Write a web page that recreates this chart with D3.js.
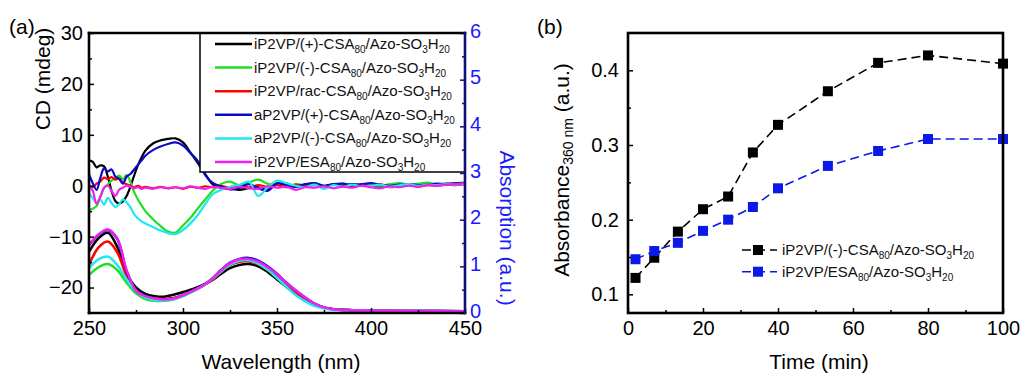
<!DOCTYPE html>
<html>
<head>
<meta charset="utf-8">
<script src="https://cdn.jsdelivr.net/npm/d3@7/dist/d3.min.js"></script>
<style>
  body { margin: 0; background: #fff; }
  svg { display: block; font-family: "Liberation Sans", Arial, sans-serif; }
</style>
</head>
<body>
<svg id="chart" width="1023" height="373"></svg>
<script>
// ---- panel (a): CD spectra (left axis) ----
const cdWl = [250,252,254,256,258,260,262,264,266,268,270,272,274,276,278,280,284,288,292,296,300,304,308,312,316,320,
  325,330,335,340,345,350,355,360,365,370,375,380,385,390,395,400,405,410,415,420,425,430,435,440,445,450];
const cdBlack = [5.0,4.7,3.6,4.0,3.8,1.8,-1.0,-3.0,-3.5,-3.1,-2.0,-0.2,2.0,4.0,5.6,6.9,8.3,8.9,9.2,9.3,8.5,6.5,4.4,2.2,0.2,-0.4,
  -0.6,-0.8,-0.5,-0.3,-0.8,0.3,0.1,-0.2,0.2,0.4,-0.1,0.2,0.0,0.3,0.1,0.2,-0.2,0.1,0.3,0.1,0.0,0.3,0.2,0.4,0.3,0.6];
const cdGreen = [-4.8,-4.5,-4.0,-2.2,-0.5,0.3,1.0,1.5,2.0,1.3,2.1,0.8,-1.2,-2.7,-3.9,-5.0,-6.6,-7.9,-9.0,-9.2,-7.8,-6.3,-4.4,-2.6,-0.9,0.3,
  0.8,0.1,0.6,1.2,0.4,0.2,-0.3,0.3,0.1,0.5,0.0,0.2,0.4,0.0,0.3,0.2,0.0,0.3,0.5,0.2,0.4,0.6,0.3,0.2,0.5,0.6];
const cdRed = [0.0,-0.3,0.4,0.8,1.6,1.3,1.7,1.2,1.4,0.6,0.3,0.0,-0.3,0.0,-0.4,-0.2,-0.5,-0.2,-0.5,-0.3,-0.6,-0.2,-0.4,-0.1,-0.3,0.0,
  -0.4,-0.1,-0.3,0.1,-0.2,0.1,-0.3,0.2,-0.1,0.1,-0.2,0.3,0.0,-0.1,0.2,0.0,0.3,-0.3,0.0,0.2,-0.2,0.1,0.0,0.2,0.1,0.3];
const cdBlue = [2.2,0.5,-0.8,1.5,3.4,2.8,3.2,1.8,1.4,0.4,1.8,2.3,3.2,4.1,5.0,5.9,7.0,7.7,8.2,8.5,7.9,6.4,4.8,2.0,0.5,-0.1,
  -0.7,-0.4,0.3,-0.5,-1.0,0.5,0.2,-0.2,0.3,0.5,0.0,0.3,0.4,0.1,0.3,0.5,0.2,0.0,0.2,0.3,0.1,0.2,0.4,0.3,0.5,0.5];
const cdCyan = [-1.5,-2.4,-3.4,-2.7,-3.7,-2.4,-3.4,-4.2,-3.6,-2.7,-3.3,-4.2,-5.6,-6.4,-7.0,-7.4,-8.1,-8.8,-9.3,-9.5,-8.7,-7.4,-5.7,-3.5,-1.6,-0.9,
  -0.2,0.2,0.8,-2.0,-0.3,1.0,0.5,0.0,-0.3,0.2,-0.6,0.1,-0.2,0.2,-0.1,0.0,0.2,-0.2,0.1,0.3,0.0,0.2,0.1,0.3,0.2,0.4];
const cdMagenta = [0.0,-1.0,-3.5,-2.2,-0.4,0.0,-1.0,-2.0,-0.8,-0.4,0.0,-0.2,-0.5,-0.3,-0.6,-0.4,-0.6,-0.3,-0.5,-0.3,-0.5,-0.1,-0.4,-0.6,-0.2,-0.4,
  -0.6,-0.2,-0.5,-0.6,-0.1,-0.4,-0.2,-0.8,-0.3,-0.4,-0.1,-0.5,-0.2,-0.4,0.0,-0.3,-0.5,-0.1,-0.3,0.0,-0.2,0.1,0.0,0.2,0.3,0.5];

// ---- panel (a): absorption spectra (right axis) ----
const absWl = [250,255,260,265,270,275,280,285,290,295,300,305,310,315,320,325,330,335,340,345,350,355,360,365,370,375,380,390,400,420,450];
const absBlack = [1.31,1.60,1.72,1.42,0.85,0.55,0.41,0.36,0.35,0.39,0.45,0.51,0.59,0.69,0.83,0.96,1.03,1.05,1.00,0.88,0.72,0.56,0.40,0.28,0.18,0.11,0.08,0.06,0.05,0.045,0.04];
const absGreen = [0.81,0.98,1.05,0.92,0.65,0.42,0.30,0.26,0.26,0.29,0.36,0.46,0.57,0.70,0.88,1.03,1.10,1.11,1.05,0.93,0.77,0.59,0.42,0.28,0.17,0.11,0.08,0.06,0.05,0.045,0.04];
const absRed = [1.03,1.40,1.53,1.30,0.80,0.47,0.35,0.31,0.30,0.32,0.38,0.47,0.57,0.70,0.88,1.03,1.10,1.11,1.05,0.94,0.78,0.60,0.44,0.30,0.19,0.12,0.08,0.06,0.05,0.045,0.04];
const absBlue = [1.45,1.67,1.78,1.59,0.90,0.48,0.36,0.30,0.29,0.31,0.38,0.47,0.58,0.72,0.91,1.08,1.16,1.18,1.12,1.00,0.84,0.65,0.48,0.33,0.20,0.12,0.08,0.06,0.05,0.045,0.04];
const absCyan = [0.96,1.15,1.21,1.03,0.72,0.47,0.33,0.28,0.27,0.30,0.37,0.46,0.57,0.71,0.88,1.04,1.12,1.13,1.06,0.93,0.75,0.56,0.38,0.25,0.15,0.10,0.07,0.06,0.05,0.045,0.04];
const absMagenta = [1.46,1.68,1.79,1.60,0.92,0.48,0.36,0.31,0.29,0.31,0.38,0.47,0.57,0.71,0.90,1.07,1.15,1.16,1.10,0.98,0.83,0.64,0.48,0.33,0.20,0.12,0.08,0.06,0.05,0.045,0.04];

const legendA = [
  "iP2VP/(+)-CSA_{80}/Azo-SO_{3}H_{20}",
  "iP2VP/(-)-CSA_{80}/Azo-SO_{3}H_{20}",
  "iP2VP/rac-CSA_{80}/Azo-SO_{3}H_{20}",
  "aP2VP/(+)-CSA_{80}/Azo-SO_{3}H_{20}",
  "aP2VP/(-)-CSA_{80}/Azo-SO_{3}H_{20}",
  "iP2VP/ESA_{80}/Azo-SO_{3}H_{20}"
];
const colorsA = ["#000000", "#1ee01e", "#ff0000", "#0a0ac8", "#20e8f0", "#f020f0"];

// ---- panel (b): absorbance at 360 nm vs time ----
const timeMin = [2, 7, 13.3, 20, 26.7, 33.3, 40, 53.3, 66.7, 80, 100];
const absCSA = [0.122, 0.149, 0.184, 0.214, 0.231, 0.290, 0.327, 0.372, 0.410, 0.420, 0.409];
const absESA = [0.147, 0.158, 0.169, 0.185, 0.200, 0.217, 0.242, 0.272, 0.292, 0.308, 0.308];
const legendB = ["iP2VP/(-)-CSA_{80}/Azo-SO_{3}H_{20}", "iP2VP/ESA_{80}/Azo-SO_{3}H_{20}"];
const colorsB = ["#000000", "#0a18e8"];

const svg = d3.select("#chart");

// text with _{sub} markup
function richText(sel, str, subSize) {
  const parts = str.split(/_\{([^}]*)\}/);
  let shifted = false;
  parts.forEach((p, i) => {
    if (p === "") return;
    const t = sel.append("tspan").text(p);
    if (i % 2 === 1) {
      t.attr("font-size", subSize).attr("dy", shifted ? 0 : 4);
      shifted = true;
    } else if (shifted) {
      t.attr("dy", -4);
      shifted = false;
    }
  });
}

function styleAxis(g, color) {
  g.select(".domain").remove();
  g.selectAll("line").attr("stroke", color).attr("stroke-width", 1.5);
  g.selectAll("text").attr("fill", color).attr("font-size", 20)
    .attr("font-family", "Liberation Sans, Arial, sans-serif");
}

// ================= panel (a) =================
const a = { left: 89, right: 465, top: 33, bottom: 313 };
const xA = d3.scaleLinear().domain([250, 450]).range([a.left, a.right]);
const yCD = d3.scaleLinear().domain([-25, 30]).range([a.bottom, a.top]);
const yAbs = d3.scaleLinear().domain([0, 6]).range([a.bottom, a.top]);

svg.append("clipPath").attr("id", "clipA").append("rect")
  .attr("x", a.left).attr("y", a.top).attr("width", a.right - a.left).attr("height", a.bottom - a.top);

const cdSeries = [cdBlack, cdGreen, cdRed, cdBlue, cdCyan, cdMagenta];
const absSeries = [absBlack, absGreen, absRed, absBlue, absCyan, absMagenta];

const lineCD = d3.line().x((d, i) => xA(cdWl[i])).y(d => yCD(d)).curve(d3.curveCatmullRom.alpha(0.5));
const lineAbs = d3.line().x((d, i) => xA(absWl[i])).y(d => yAbs(d)).curve(d3.curveCatmullRom.alpha(0.5));

const gA = svg.append("g").attr("clip-path", "url(#clipA)");
cdSeries.forEach((s, k) => {
  gA.append("path").datum(s).attr("fill", "none").attr("stroke", colorsA[k])
    .attr("stroke-width", 2.2).attr("stroke-linejoin", "round").attr("d", lineCD);
});
absSeries.forEach((s, k) => {
  gA.append("path").datum(s).attr("fill", "none").attr("stroke", colorsA[k])
    .attr("stroke-width", 2.5).attr("stroke-linejoin", "round").attr("d", lineAbs);
});

// legend (a)
const legA = svg.append("g");
legA.append("rect").attr("x", 200).attr("y", a.top).attr("width", a.right - 200).attr("height", 139)
  .attr("fill", "#fff").attr("stroke", "#000").attr("stroke-width", 1.5);
legendA.forEach((lbl, k) => {
  const y = 44 + k * 23.6;
  legA.append("line").attr("x1", 215).attr("x2", 252).attr("y1", y).attr("y2", y)
    .attr("stroke", colorsA[k]).attr("stroke-width", 2.5);
  const t = legA.append("text").attr("x", 254).attr("y", y + 5).attr("font-size", 15).attr("fill", "#111");
  richText(t, lbl, 10);
});

// axes (a)
svg.append("g").attr("transform", `translate(${a.left},0)`)
  .call(d3.axisLeft(yCD).tickValues([-20, -10, 0, 10, 20, 30]).tickSize(-5).tickPadding(6))
  .call(g => styleAxis(g, "#000"));
svg.append("g").attr("transform", `translate(${a.left},0)`)
  .call(d3.axisLeft(yCD).tickValues([-15, -5, 5, 15, 25]).tickSize(-3).tickFormat(""))
  .call(g => styleAxis(g, "#000"));
svg.append("g").attr("transform", `translate(0,${a.bottom})`)
  .call(d3.axisBottom(xA).tickValues([250, 300, 350, 400, 450]).tickSize(-5).tickPadding(8))
  .call(g => styleAxis(g, "#000"));
svg.append("g").attr("transform", `translate(0,${a.bottom})`)
  .call(d3.axisBottom(xA).tickValues([275, 325, 375, 425]).tickSize(-3).tickFormat(""))
  .call(g => styleAxis(g, "#000"));
svg.append("g").attr("transform", `translate(${a.right},0)`)
  .call(d3.axisRight(yAbs).tickValues([0, 1, 2, 3, 4, 5, 6]).tickSize(-5).tickPadding(5).tickFormat(d3.format("d")))
  .call(g => styleAxis(g, "#1a1aff"))
  .call(g => g.selectAll("line").attr("stroke", "#10107a"))
  .call(g => g.selectAll("text").attr("dy", "0.2em"));
svg.append("g").attr("transform", `translate(${a.right},0)`)
  .call(d3.axisRight(yAbs).tickValues([0.5, 1.5, 2.5, 3.5, 4.5, 5.5]).tickSize(-3).tickFormat(""))
  .call(g => styleAxis(g, "#10107a"));

// frame (a)
const frameA = svg.append("g").attr("stroke-width", 2.6).attr("stroke-linecap", "square");
frameA.append("line").attr("x1", a.left).attr("x2", a.left).attr("y1", a.top).attr("y2", a.bottom).attr("stroke", "#000");
frameA.append("line").attr("x1", a.left).attr("x2", a.right).attr("y1", a.top).attr("y2", a.top).attr("stroke", "#000");
frameA.append("line").attr("x1", a.left).attr("x2", a.right).attr("y1", a.bottom).attr("y2", a.bottom).attr("stroke", "#000");
frameA.append("line").attr("x1", a.right).attr("x2", a.right).attr("y1", a.top).attr("y2", a.bottom).attr("stroke", "#10107a");

svg.append("text").attr("x", 9).attr("y", 34).attr("font-size", 21).text("(a)");
svg.append("text").attr("transform", "translate(43,79) rotate(-90)").attr("text-anchor", "middle")
  .attr("dy", "0.35em").attr("font-size", 21).text("CD (mdeg)");
svg.append("text").attr("transform", "translate(507,228) rotate(90)").attr("text-anchor", "middle")
  .attr("dy", "0.35em").attr("font-size", 21).attr("fill", "#1a1aff").text("Absorption (a.u.)");
svg.append("text").attr("x", (a.left + a.right) / 2 + 4).attr("y", 369).attr("text-anchor", "middle")
  .attr("font-size", 21).text("Wavelength (nm)");

// ================= panel (b) =================
const b = { left: 628, right: 1003, top: 33, bottom: 313 };
const xB = d3.scaleLinear().domain([0, 100]).range([b.left, b.right]);
const yB = d3.scaleLinear().domain([0.075, 0.45]).range([b.bottom, b.top]);

const lineB = d3.line().x((d, i) => xB(timeMin[i])).y(d => yB(d));
[absCSA, absESA].forEach((s, k) => {
  svg.append("path").datum(s).attr("fill", "none").attr("stroke", colorsB[k])
    .attr("stroke-width", 1.6).attr("stroke-dasharray", "9,5").attr("d", lineB);
  svg.append("g").selectAll("rect").data(s).join("rect")
    .attr("x", (d, i) => xB(timeMin[i]) - 5).attr("y", d => yB(d) - 5)
    .attr("width", 10).attr("height", 10).attr("fill", colorsB[k]);
});

svg.append("g").attr("transform", `translate(${b.left},0)`)
  .call(d3.axisLeft(yB).tickValues([0.1, 0.2, 0.3, 0.4]).tickSize(-5).tickPadding(9).tickFormat(d3.format(".1f")))
  .call(g => styleAxis(g, "#000"));
svg.append("g").attr("transform", `translate(${b.left},0)`)
  .call(d3.axisLeft(yB).tickValues([0.15, 0.25, 0.35]).tickSize(-3).tickFormat(""))
  .call(g => styleAxis(g, "#000"));
svg.append("g").attr("transform", `translate(0,${b.bottom})`)
  .call(d3.axisBottom(xB).tickValues([0, 20, 40, 60, 80, 100]).tickSize(-5).tickPadding(8))
  .call(g => styleAxis(g, "#000"));
svg.append("g").attr("transform", `translate(0,${b.bottom})`)
  .call(d3.axisBottom(xB).tickValues([10, 30, 50, 70, 90]).tickSize(-3).tickFormat(""))
  .call(g => styleAxis(g, "#000"));

svg.append("rect").attr("x", b.left).attr("y", b.top).attr("width", b.right - b.left).attr("height", b.bottom - b.top)
  .attr("fill", "none").attr("stroke", "#000").attr("stroke-width", 2.6);

// legend (b)
legendB.forEach((lbl, k) => {
  const y = 250 + k * 21.7;
  svg.append("line").attr("x1", 742).attr("x2", 777).attr("y1", y).attr("y2", y)
    .attr("stroke", colorsB[k]).attr("stroke-width", 1.6).attr("stroke-dasharray", "9,5");
  svg.append("rect").attr("x", 753).attr("y", y - 5).attr("width", 10).attr("height", 10).attr("fill", colorsB[k]);
  const t = svg.append("text").attr("x", 782).attr("y", y + 5).attr("font-size", 15).attr("fill", "#111");
  richText(t, lbl, 10);
});

svg.append("text").attr("x", 537).attr("y", 34).attr("font-size", 21).text("(b)");
const yt = svg.append("text").attr("transform", "translate(562,170) rotate(-90)").attr("text-anchor", "middle")
  .attr("dy", "0.35em").attr("font-size", 21);
richText(yt, "Absorbance_{360 nm} (a.u.)", 14);
svg.append("text").attr("x", 819).attr("y", 369).attr("text-anchor", "middle")
  .attr("font-size", 21).text("Time (min)");
</script>
</body>
</html>
